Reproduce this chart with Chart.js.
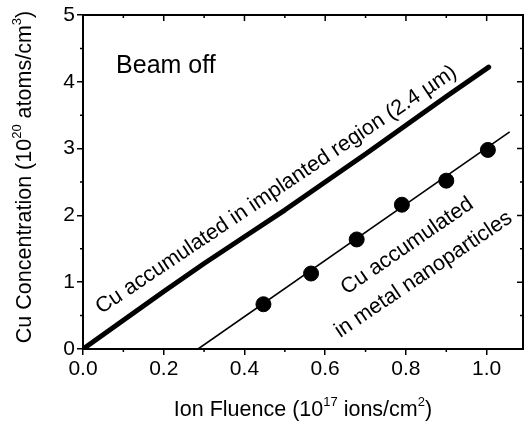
<!DOCTYPE html>
<html>
<head>
<meta charset="utf-8">
<script src="https://cdn.jsdelivr.net/npm/chart.js@4.4.1/dist/chart.umd.min.js"></script>
<style>
  html, body { margin: 0; padding: 0; background: #fff; overflow: hidden; }
  #wrap { width: 526px; height: 421px; }
  canvas { display: block; }
</style>
</head>
<body>
<div id="wrap"><canvas id="chart" width="526" height="421"></canvas></div>
<script>
// data
const implantedX = [0, 0.1, 0.2, 0.3, 0.4, 0.5, 0.6, 0.7, 0.8, 0.9, 1.005];
const implantedY = [0, 0.43, 0.86, 1.28, 1.68, 2.08, 2.5, 2.92, 3.35, 3.78, 4.22];
const nanoX = [0.447, 0.565, 0.678, 0.79, 0.90, 1.003];
const nanoY = [0.67, 1.13, 1.64, 2.16, 2.52, 2.98];
const fitX = [0.285, 1.057];
const fitY = [0, 3.25];
const xTicks = [0, 0.2, 0.4, 0.6, 0.8, 1.0];
const yTicks = [0, 1, 2, 3, 4, 5];

const FONT = '"Liberation Sans", Arial, sans-serif';

const toPts = (xs, ys) => xs.map((x, i) => ({ x, y: ys[i] }));

// frame, minor ticks, mirrored ticks, titles, annotations
const decor = {
  id: 'decor',
  afterDraw(chart) {
    const { ctx, chartArea: a, scales } = chart;
    const sx = scales.x, sy = scales.y;
    ctx.save();
    ctx.strokeStyle = '#000';
    ctx.lineWidth = 2;
    ctx.strokeRect(a.left, a.top, a.right - a.left, a.bottom - a.top);

    ctx.lineWidth = 1.5;
    ctx.beginPath();
    for (let v = 0; v <= 1.05; v += 0.1) {
      const px = sx.getPixelForValue(v);
      const major = Math.round(v * 10) % 2 === 0;
      const len = major ? 6 : 3;
      if (!major) { ctx.moveTo(px, a.bottom); ctx.lineTo(px, a.bottom + len); }
      ctx.moveTo(px, a.top); ctx.lineTo(px, a.top + len);
    }
    for (let v = 0; v <= 5; v += 0.5) {
      const py = sy.getPixelForValue(v);
      const major = Math.abs(v - Math.round(v)) < 0.01;
      const len = major ? 6 : 3;
      if (!major) { ctx.moveTo(a.left, py); ctx.lineTo(a.left - len, py); }
      ctx.moveTo(a.right, py); ctx.lineTo(a.right - len, py);
    }
    ctx.stroke();

    ctx.fillStyle = '#000';
    ctx.textBaseline = 'alphabetic';

    // text with superscripts: parts = [[text, isSup], ...]
    const drawRich = (parts, size) => {
      const sup = Math.round(size * 0.62);
      let w = 0;
      parts.forEach(([t, s]) => { ctx.font = (s ? sup : size) + 'px ' + FONT; w += ctx.measureText(t).width; });
      let x = -w / 2;
      parts.forEach(([t, s]) => {
        ctx.font = (s ? sup : size) + 'px ' + FONT;
        ctx.fillText(t, x, s ? -size * 0.45 : 0);
        x += ctx.measureText(t).width;
      });
    };

    // x title
    ctx.save();
    ctx.translate((a.left + a.right) / 2, 416);
    drawRich([['Ion Fluence (10', 0], ['17', 1], [' ions/cm', 0], ['2', 1], [')', 0]], 21.5);
    ctx.restore();

    // y title
    ctx.save();
    ctx.translate(31, 177);
    ctx.rotate(-Math.PI / 2);
    drawRich([['Cu Concentration (10', 0], ['20', 1], [' atoms/cm', 0], ['3', 1], [')', 0]], 21.5);
    ctx.restore();

    // annotations
    ctx.font = '25px ' + FONT;
    ctx.textAlign = 'left';
    ctx.fillText('Beam off', sx.getPixelForValue(0.082), sy.getPixelForValue(4.13));

    const rotText = (txt, x, y, ang, size) => {
      ctx.save();
      ctx.translate(sx.getPixelForValue(x), sy.getPixelForValue(y));
      ctx.rotate(-ang * Math.PI / 180);
      ctx.font = size + 'px ' + FONT;
      ctx.textAlign = 'left';
      ctx.fillText(txt, 0, 0);
      ctx.restore();
    };
    rotText('Cu accumulated in implanted region (2.4 \u00b5m)', 0.045, 0.52, 33.8, 21.5);
    rotText('Cu accumulated', 0.653, 0.81, 34.5, 21.5);
    rotText('in metal nanoparticles', 0.637, 0.165, 34, 21.5);
    ctx.restore();
  }
};

new Chart(document.getElementById('chart'), {
  type: 'scatter',
  data: {
    datasets: [
      { data: toPts(implantedX, implantedY), showLine: true, borderColor: '#000', borderWidth: 5,
        pointRadius: 0, tension: 0, borderCapStyle: 'round', borderJoinStyle: 'round' },
      { data: toPts(fitX, fitY), showLine: true, borderColor: '#000', borderWidth: 1.6, pointRadius: 0 },
      { data: toPts(nanoX, nanoY), showLine: false, backgroundColor: '#000', borderColor: '#000',
        pointRadius: 7.5, pointHoverRadius: 7.5 }
    ]
  },
  plugins: [decor],
  options: {
    responsive: false,
    animation: false,
    layout: { autoPadding: false, padding: { left: 63, top: 15, right: 3, bottom: 39 } },
    plugins: { legend: { display: false }, tooltip: { enabled: false } },
    scales: {
      x: {
        type: 'linear', min: 0, max: 1.09,
        afterBuildTicks: s => { s.ticks = xTicks.map(v => ({ value: v })); },
        afterFit: s => { s.height = 33; s.paddingLeft = 0; s.paddingRight = 0; },
        ticks: { color: '#000', font: { family: FONT, size: 21 }, padding: 2, maxRotation: 0,
          callback: v => v.toFixed(1) },
        grid: { drawOnChartArea: false, tickLength: 6, color: '#000', lineWidth: 1.5 },
        border: { display: false }
      },
      y: {
        type: 'linear', min: 0, max: 5,
        afterBuildTicks: s => { s.ticks = yTicks.map(v => ({ value: v })); },
        afterFit: s => { s.width = 20; s.paddingTop = 0; s.paddingBottom = 0; },
        ticks: { color: '#000', font: { family: FONT, size: 21 }, padding: 2,
          callback: v => String(v) },
        grid: { drawOnChartArea: false, tickLength: 6, color: '#000', lineWidth: 1.5 },
        border: { display: false }
      }
    }
  }
});
</script>
</body>
</html>
